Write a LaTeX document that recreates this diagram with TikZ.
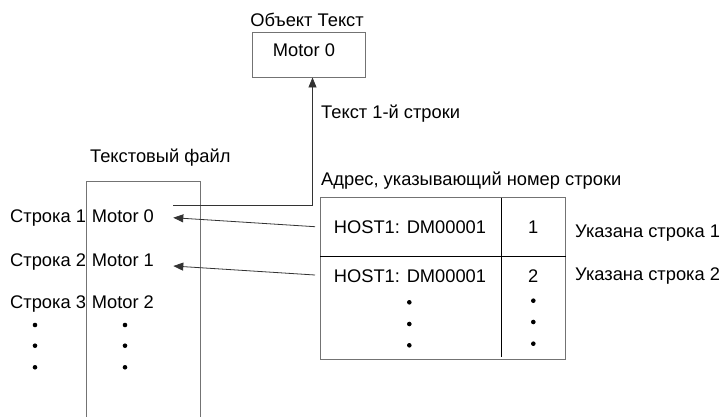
\documentclass[tikz,border=0pt]{standalone}
\usepackage{fontspec}
\setmainfont{Liberation Sans}
\usetikzlibrary{arrows.meta}
\begin{document}
\begin{tikzpicture}[x=1pt,y=-1pt,
  txt/.style={inner sep=0pt,font=\fontsize{18.3}{22}\selectfont,text=black},
  boxline/.style={draw=black!55,line width=0.9pt},
  divider/.style={draw=black,line width=1.4pt},
  conn/.style={draw=black!80,line width=0.8pt},
  arr/.style={conn,-{Triangle[length=10pt,width=8pt]}},
  dotmark/.style={circle,fill=black,inner sep=0pt,minimum size=4.6pt}]
\useasboundingbox (0,0) rectangle (723,417);
\clip (0,0) rectangle (723,417);
\fill[white] (0,0) rectangle (723,417);
% object box
\node[txt,anchor=base] (objtitle) at (307,26.5) {Объект Текст};
\node[boxline,minimum width=112.6pt,minimum height=44.3pt,inner sep=0pt] (objbox) at (309,54.85) {};
\node[txt,anchor=base] (objtext) at (304,56.7) {Motor 0};
% labels
\node[txt,anchor=base west] (lbl1) at (321,119) {Текст 1-й строки};
\node[txt,anchor=base west] (lbl2) at (321,185.5) {Адрес, указывающий номер строки};
\node[txt,anchor=base east] (lbl3) at (230.7,162.3) {Текстовый файл};
% text file box
\node[boxline,minimum width=113.3pt,minimum height=248.3pt,inner sep=0pt] (file) at (143.35,305.85) {};
\node[txt,anchor=base west] (s1) at (10,222.3) {Строка 1};
\node[txt,anchor=base west] (s2) at (10,266) {Строка 2};
\node[txt,anchor=base west] (s3) at (10,308.3) {Строка 3};
\node[txt,anchor=base west] (m1) at (91.7,222.3) {Motor 0};
\node[txt,anchor=base west] (m2) at (91.7,266) {Motor 1};
\node[txt,anchor=base west] (m3) at (91.7,308.3) {Motor 2};
\foreach \y [count=\i] in {325,345.7,367.3}{
  \node[dotmark] (ld\i) at (35,\y) {};
  \node[dotmark] (rd\i) at (125,\y) {};
}
% table
\node[boxline,minimum width=244.6pt,minimum height=161.6pt,inner sep=0pt] (tbl) at (443,278.5) {};
\draw[divider] (tbl.west |- 0,256.3) -- (tbl.east |- 0,256.3);
\draw[divider] (501.3,197.7) -- (501.3,357.3);
\node[txt,anchor=base] (h1) at (410,233.3) {HOST1: DM00001};
\node[txt,anchor=base] (n1) at (533.3,233.3) {1};
\node[txt,anchor=base] (h2) at (410,282.7) {HOST1: DM00001};
\node[txt,anchor=base] (n2) at (533.3,282.7) {2};
\foreach \y [count=\i] in {302.3,324,345.3}{
  \node[dotmark] (hd\i) at (409.3,\y) {};
}
\foreach \y [count=\i] in {300.7,322,343.7}{
  \node[dotmark] (nd\i) at (533.3,\y) {};
}
\node[txt,anchor=base west] (u1) at (575,237.7) {Указана строка 1};
\node[txt,anchor=base west] (u2) at (575,280.7) {Указана строка 2};
% connectors
\coordinate (m0end) at (173.3,205);
\coordinate (objin) at (312.5,77.5);
\draw[arr] (m0end) -| (objin);
\coordinate (a1s) at (315,226.7);
\coordinate (a1e) at (173.3,217.7);
\draw[arr] (a1s) -- (a1e);
\coordinate (a2s) at (315,275);
\coordinate (a2e) at (173.3,266);
\draw[arr] (a2s) -- (a2e);
\end{tikzpicture}
\end{document}
